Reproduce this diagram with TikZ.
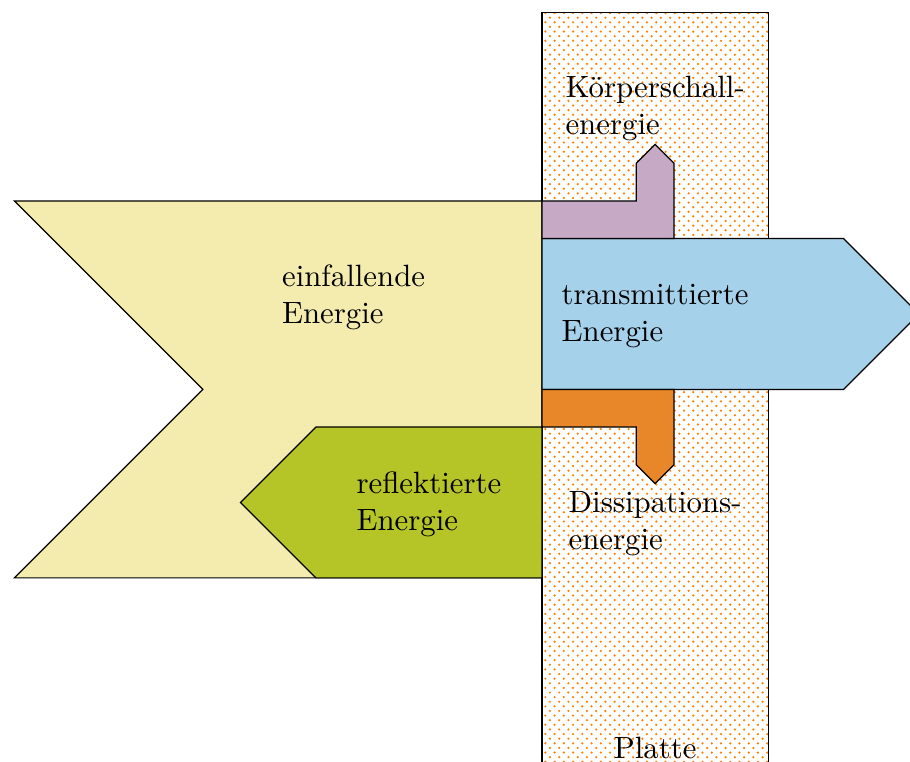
\documentclass[tikz,border=0pt]{standalone}
\usepackage{tikz}
\usetikzlibrary{patterns}
\usepackage{xcolor}

\definecolor{einfallgelb}{RGB}{243,236,174}
\definecolor{reflexgruen}{RGB}{181,197,40}
\definecolor{transblau}{RGB}{166,209,234}
\definecolor{koerperlila}{RGB}{198,169,196}
\definecolor{dissorange}{RGB}{232,134,42}

% staggered dots for the plate
\pgfdeclarepatternformonly{plattenpunkte}{\pgfqpoint{-0.6pt}{-0.6pt}}{\pgfqpoint{2.4pt}{2.4pt}}{\pgfqpoint{3.0pt}{3.0pt}}{%
  \pgfpathcircle{\pgfqpoint{0pt}{0pt}}{0.4pt}
  \pgfpathcircle{\pgfqpoint{1.5pt}{1.5pt}}{0.4pt}
  \pgfusepathqfill}

\tikzset{
  beschriftung/.style={align=left},
  energiepfeil/.style={draw=black}
}

\begin{document}
\begin{tikzpicture}[x=0.43cm, y=0.43cm]
    \clip (-14.38,-14.88) rectangle (9.76,5.33);
    % Platte
    \draw[pattern=plattenpunkte, pattern color=orange] (0,-16) -- (0,5) -- (6,5) -- (6,-16);
    % einfallende Energie
    \draw[energiepfeil, fill=einfallgelb] (-14,0) -- (0,0) -- (0,-10) -- (-14,-10) -- (-9,-5) -- cycle;
    % reflektierte Energie
    \draw[energiepfeil, fill=reflexgruen] (0,-6) -- (-6,-6) -- (-8,-8) -- (-6,-10) -- (0,-10) -- cycle;
    % transmittierte Energie
    \draw[energiepfeil, fill=transblau] (0,-1) -- (8,-1) -- (10,-3) -- (8,-5) -- (0,-5) -- cycle;
    % Koerperschall
    \draw[energiepfeil, fill=koerperlila] (0,0) -- (2.5,0) -- (2.5,1) -- (3,1.5) -- (3.5,1) -- (3.5,-1) -- (0,-1) -- cycle;
    % Dissipation
    \draw[energiepfeil, fill=dissorange] (0,-5) -- (3.5,-5) -- (3.5,-7) -- (3,-7.5) -- (2.5,-7) -- (2.5,-6) -- (0,-6) -- cycle;
    \node[beschriftung] (einfall) at (-5,-2.55) {einfallende\\Energie};
    \node[beschriftung] (reflex) at (-3,-8.05) {reflektierte\\Energie};
    \node[beschriftung] (trans) at (3,-3.05) {transmittierte\\Energie};
    \node[beschriftung] (koerper) at (3,2.45) {Körperschall-\\energie};
    \node[beschriftung] (diss) at (3,-8.55) {Dissipations-\\energie};
    \node (platte) at (3,-14.5) {Platte};
\end{tikzpicture}
\end{document}
